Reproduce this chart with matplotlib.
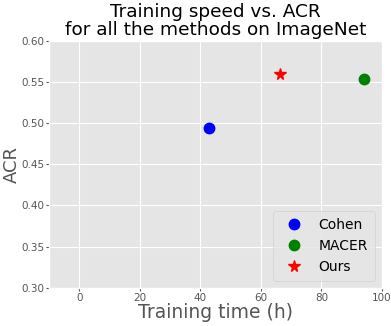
import matplotlib
matplotlib.use('Agg')
import matplotlib.pyplot as plt

plt.style.use('ggplot')

methods = ['Cohen', 'MACER', 'Ours']
train_hours = [43, 94, 66.3]
acr = [0.494, 0.553, 0.560]
colors = ['blue', 'green', 'red']
markers = ['o', 'o', '*']

fig, ax = plt.subplots(figsize=(3.91, 3.26), dpi=100)
for name, t, a, c, m in zip(methods, train_hours, acr, colors, markers):
    size = 7.5 if m == 'o' else 8.5
    ax.plot(t, a, linestyle='none', marker=m, color=c, markersize=size, label=name)

ax.set_xlim(-10, 100)
ax.set_ylim(0.30, 0.60)
ax.set_xticks([0, 20, 40, 60, 80, 100])
ax.set_yticks([0.30, 0.35, 0.40, 0.45, 0.50, 0.55, 0.60])
ax.tick_params(labelsize=7.5, pad=1, length=2.5)
ax.set_xlabel('Training time (h)', fontsize=13.5, labelpad=0)
ax.set_ylabel('ACR', fontsize=13, labelpad=0)
ax.set_title('Training speed vs. ACR\nfor all the methods on ImageNet', fontsize=13.3,
             color='black', linespacing=1.0, pad=4)
ax.legend(loc='lower right', fontsize=10, labelcolor='black', borderpad=0.5)

plt.subplots_adjust(left=0.125, right=0.977, top=0.875, bottom=0.117)
plt.savefig('out.png', dpi=100)
